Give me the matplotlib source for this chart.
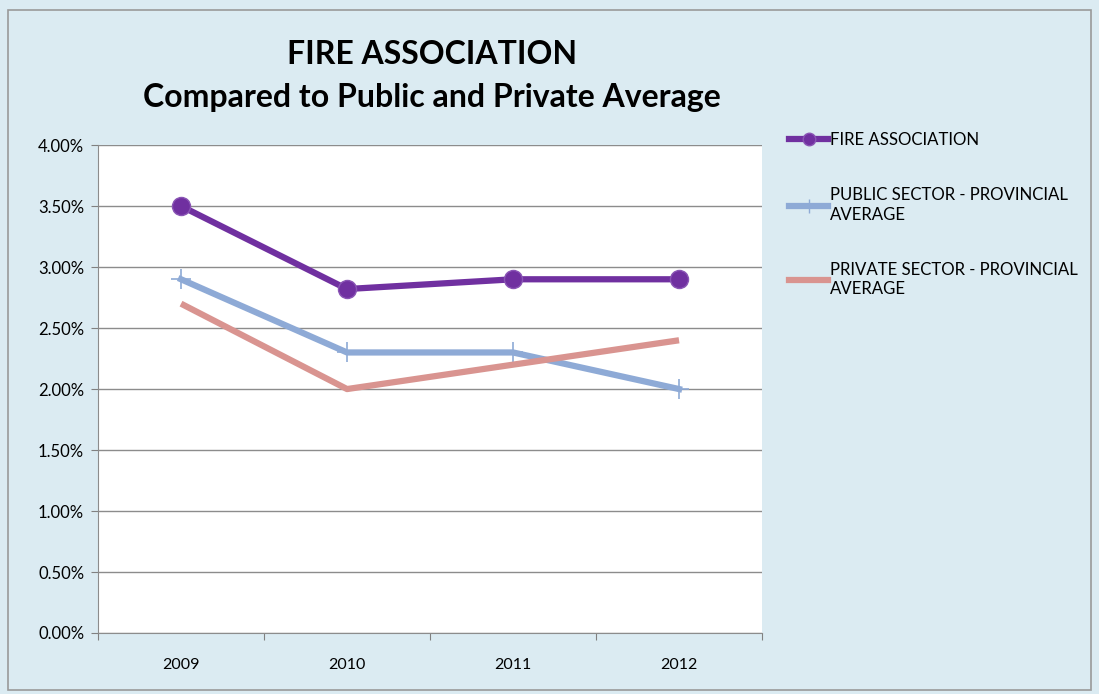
import matplotlib
matplotlib.use("Agg")
import matplotlib.pyplot as plt
from matplotlib.patches import Rectangle
from matplotlib.ticker import FuncFormatter
from matplotlib.lines import Line2D

years = ["2009", "2010", "2011", "2012"]
fire = [3.50, 2.82, 2.90, 2.90]
public = [2.90, 2.30, 2.30, 2.00]
private = [2.70, 2.00, 2.20, 2.40]

plt.rcParams['font.family'] = ['Lato', 'DejaVu Sans']

bg = '#dbebf2'
purple, blue, red = '#7030a0', '#8eaad6', '#d99490'

fig = plt.figure(figsize=(10.99, 6.94), dpi=100, facecolor=bg)
fig.patches.append(Rectangle((0.007, 0.006), 0.986, 0.98, transform=fig.transFigure,
                             fill=False, edgecolor='#9a9a9a', linewidth=1.2))

ax = fig.add_axes([0.0892, 0.0879, 0.6042, 0.703])
ax.set_facecolor('white')

x = [i + 0.5 for i in range(len(years))]
ax.plot(x, fire, color=purple, lw=4.5, marker='o', ms=13,
        mec='#8a55b5', mew=1, zorder=4)
ax.plot(x, public, color=blue, lw=4.5, marker='+', ms=14, mew=1.2, zorder=3)
ax.plot(x, private, color=red, lw=4.5, solid_capstyle='butt', zorder=3)

ax.set_xlim(0, 4)
ax.set_ylim(0, 4)
ax.set_xticks(range(5))
ax.set_xticks(x, minor=True)
ax.set_xticklabels([])
ax.set_xticklabels(years, minor=True)
ax.tick_params(axis='x', which='major', length=5, color='#808080')
ax.tick_params(axis='x', which='minor', length=0, pad=18, labelsize=11.5)
ax.set_yticks([i * 0.5 for i in range(9)])
ax.yaxis.set_major_formatter(FuncFormatter(lambda v, p: f"{v:.2f}%"))
ax.tick_params(axis='y', length=5, color='#808080', labelsize=12, pad=5)
ax.grid(axis='y', color='#8c8c8c', lw=1)
ax.set_axisbelow(True)
for s in ['top', 'right']:
    ax.spines[s].set_visible(False)
ax.spines['left'].set_color('#8c8c8c')
ax.spines['bottom'].set_color('#8c8c8c')

fig.text(0.393, 0.921, 'FIRE ASSOCIATION', ha='center', va='center',
         fontsize=23, fontweight='bold')
fig.text(0.393, 0.860, 'Compared to Public and Private Average', ha='center',
         va='center', fontsize=23, fontweight='bold')

handles = [
    Line2D([], [], color=purple, lw=4.5, marker='o', ms=9, mec='#8a55b5'),
    Line2D([], [], color=blue, lw=4.5, marker='|', ms=10, mew=1),
    Line2D([], [], color=red, lw=4.5),
]
labels = ['FIRE ASSOCIATION', 'PUBLIC SECTOR - PROVINCIAL\nAVERAGE',
          'PRIVATE SECTOR - PROVINCIAL\nAVERAGE']
leg = ax.legend(handles, labels, loc='upper left', bbox_to_anchor=(1.031, 1.04),
                frameon=False, fontsize=12.1, handlelength=2.3, handletextpad=0.1,
                labelspacing=2.3, borderaxespad=0)
for t in leg.get_texts():
    t.set_linespacing(1.3)

fig.savefig('out.png', dpi=100, facecolor=bg)
